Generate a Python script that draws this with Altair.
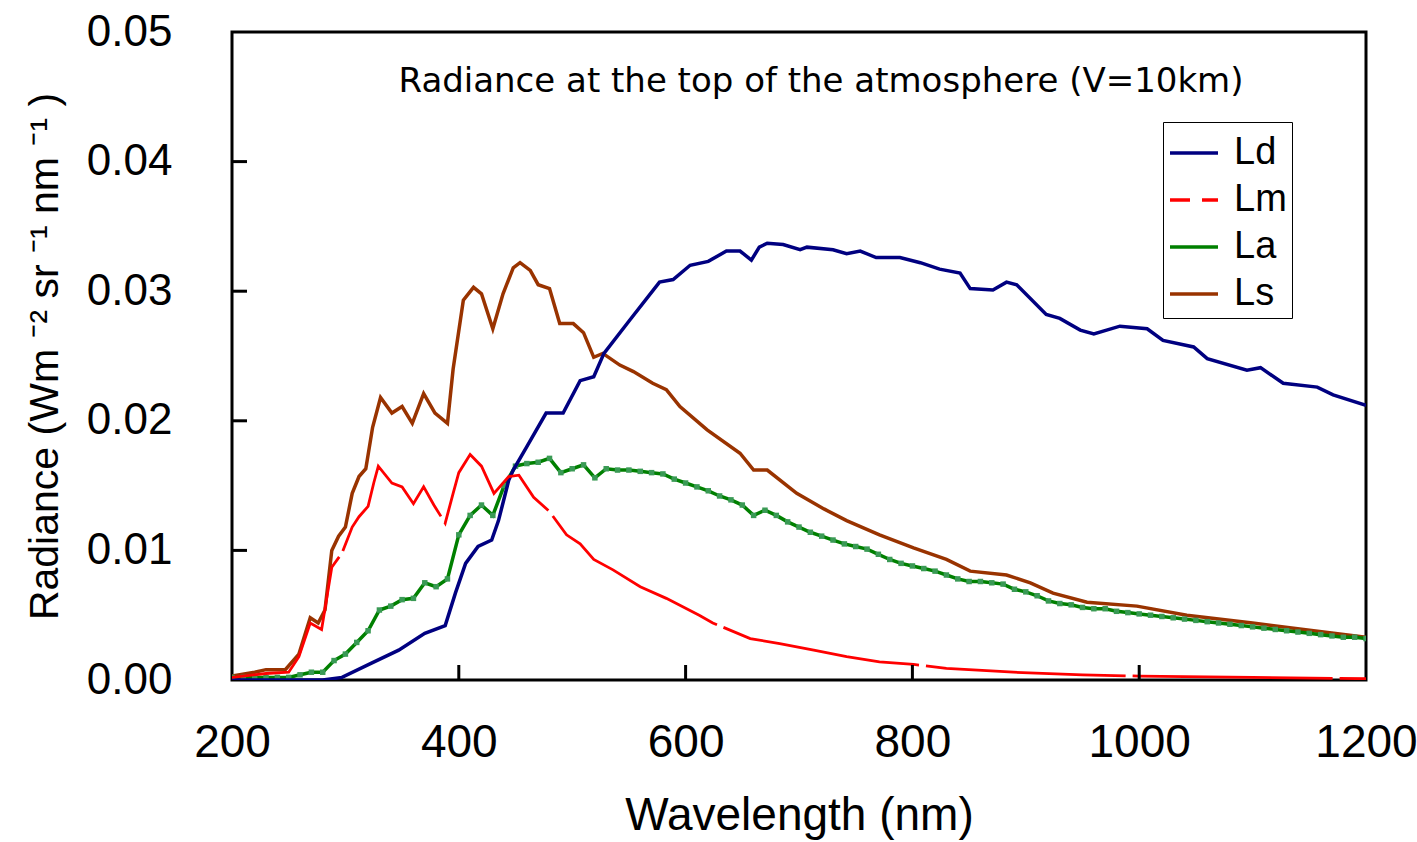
import altair as alt
import pandas as pd

series_names = ["Ld", "Lm", "La", "Ls"]
series_colors = ["#000080", "#FF0000", "#008000", "#993300"]

ld_wl = [200, 280, 297, 323, 347, 370, 388, 397, 406, 417, 429, 435, 444, 448, 460, 477, 492,
         507, 519, 528, 551, 577, 589, 604, 620, 636, 648, 658, 665, 672, 686, 701, 707, 730,
         742, 754, 768, 789, 807, 824, 842, 851, 871, 883, 892, 918, 930, 948, 960, 983, 1007,
         1021, 1048, 1060, 1095, 1107, 1127, 1157, 1171, 1200]
ld_val = [0.0, 0.0, 0.0002, 0.0013, 0.0023, 0.0036, 0.0042, 0.0067, 0.0090, 0.0103, 0.0108,
          0.0123, 0.0154, 0.0162, 0.0180, 0.0206, 0.0206, 0.0231, 0.0234, 0.0252, 0.0278,
          0.0307, 0.0309, 0.0320, 0.0323, 0.0331, 0.0331, 0.0324, 0.0334, 0.0337, 0.0336,
          0.0332, 0.0334, 0.0332, 0.0329, 0.0331, 0.0326, 0.0326, 0.0322, 0.0317, 0.0314,
          0.0302, 0.0301, 0.0307, 0.0305, 0.0282, 0.0279, 0.0270, 0.0267, 0.0273, 0.0271,
          0.0262, 0.0257, 0.0248, 0.0239, 0.0241, 0.0229, 0.0226, 0.0220, 0.0212]

lm_wl = [200, 230, 250, 259, 269, 279, 288, 297, 306, 312, 320, 325, 329, 341, 350, 360, 369,
         378, 388, 395, 400, 410, 420, 431, 444, 453, 466, 480, 495, 507, 519, 536, 560, 583,
         612, 624, 657, 683, 713, 742, 771, 801, 830, 889, 950, 1000, 1100, 1200]
lm_val = [0.0002, 0.0005, 0.0006, 0.0018, 0.0044, 0.0039, 0.0087, 0.0098, 0.0118, 0.0126,
          0.0134, 0.0152, 0.0165, 0.0152, 0.0149, 0.0136, 0.0149, 0.0135, 0.0121, 0.0144,
          0.0160, 0.0174, 0.0165, 0.0144, 0.0157, 0.0158, 0.0141, 0.0130, 0.0112, 0.0105,
          0.0093, 0.0085, 0.0072, 0.0063, 0.0050, 0.0044, 0.0032, 0.0028, 0.0023, 0.0018,
          0.0014, 0.0012, 0.0009, 0.0006, 0.0004, 0.0003, 0.0002, 0.0001]

la_wl = list(range(200, 1201, 10))
la_val = [0.0002, 0.0002, 0.0002, 0.0002, 0.0002, 0.0002, 0.0004, 0.0006, 0.0006, 0.0015,
          0.0020, 0.0029, 0.0038, 0.0054, 0.0057, 0.0062, 0.0063, 0.0075, 0.0072, 0.0078,
          0.0112, 0.0127, 0.0135, 0.0127, 0.0150, 0.0165, 0.0167, 0.0168, 0.0171, 0.0160,
          0.0163, 0.0166, 0.0156, 0.0163, 0.0162, 0.0162, 0.0161, 0.0160, 0.0159, 0.0155,
          0.0152, 0.0149, 0.0146, 0.0142, 0.0139, 0.0135, 0.0127, 0.0131, 0.0127, 0.0122,
          0.0118, 0.0114, 0.0111, 0.0108, 0.0105, 0.0103, 0.0101, 0.0097, 0.0093, 0.0090,
          0.0088, 0.0086, 0.0084, 0.0081, 0.0078, 0.0076, 0.0076, 0.0075, 0.0074, 0.0070,
          0.0068, 0.0065, 0.0061, 0.0059, 0.0058, 0.0056, 0.0055, 0.0055, 0.0053, 0.0052,
          0.0051, 0.0050, 0.0049, 0.0048, 0.0047, 0.0046, 0.0045, 0.0044, 0.0043, 0.0042,
          0.0041, 0.0040, 0.0039, 0.0038, 0.0037, 0.0036, 0.0035, 0.0034, 0.0033, 0.0033,
          0.0032]

ls_wl = [200, 220, 230, 247, 259, 269, 276, 282, 288, 294, 300, 306, 312, 318, 324, 331, 341,
         350, 359, 369, 379, 390, 395, 404, 413, 420, 430, 439, 448, 454, 463, 470, 480, 489,
         501, 510, 519, 527, 542, 554, 571, 583, 595, 619, 648, 660, 672, 698, 722, 742, 771,
         801, 830, 851, 883, 904, 924, 954, 998, 1042, 1100, 1145, 1200]
ls_val = [0.0003, 0.0006, 0.0008, 0.0008, 0.0020, 0.0048, 0.0044, 0.0054, 0.0100, 0.0111,
          0.0118, 0.0144, 0.0157, 0.0163, 0.0195, 0.0218, 0.0206, 0.0211, 0.0198, 0.0221,
          0.0206, 0.0198, 0.0240, 0.0293, 0.0303, 0.0298, 0.0271, 0.0298, 0.0318, 0.0322,
          0.0316, 0.0305, 0.0302, 0.0275, 0.0275, 0.0268, 0.0249, 0.0252, 0.0243, 0.0238,
          0.0229, 0.0224, 0.0211, 0.0193, 0.0175, 0.0162, 0.0162, 0.0144, 0.0132, 0.0123,
          0.0112, 0.0102, 0.0093, 0.0084, 0.0081, 0.0075, 0.0067, 0.0060, 0.0057, 0.0050,
          0.0044, 0.0039, 0.0033]

x_label_values = [200, 400, 600, 800, 1000, 1200]
y_label_values = [0.0, 0.01, 0.02, 0.03, 0.04, 0.05]
x_ticks = [400, 600, 800, 1000]
y_ticks = [0.01, 0.02, 0.03, 0.04]

title_text = "Radiance at the top of the atmosphere (V=10km)"
x_title = "Wavelength (nm)"
y_title = "Radiance (Wm \u207b\u00b2 sr \u207b\u00b9 nm \u207b\u00b9 )"


def frame(wl, vals, name):
    return pd.DataFrame({"wl": wl, "rad": vals, "series": name})


df_ld = frame(ld_wl, ld_val, "Ld")
df_lm = frame(lm_wl, lm_val, "Lm")
df_la = frame(la_wl, la_val, "La")
df_ls = frame(ls_wl, ls_val, "Ls")
df_all = pd.concat([df_ld, df_lm, df_la, df_ls], ignore_index=True)

W, H = 1134, 648

xscale = alt.Scale(domain=[200, 1200], nice=False, zero=False)
yscale = alt.Scale(domain=[0, 0.05], nice=False, zero=False)

xaxis = alt.Axis(values=x_label_values, title=x_title, format="d", ticks=False, domain=False,
                 grid=False, labelFont="Liberation Sans", labelFontSize=46, labelColor="black",
                 labelPadding=40, labelFlush=False, titleFont="Liberation Sans", titleFontSize=46,
                 titleFontWeight="normal", titleColor="black", titlePadding=28)
yaxis = alt.Axis(values=y_label_values, title=y_title, format=".2f", ticks=False, domain=False,
                 grid=False, labelFont="Liberation Sans", labelFontSize=44, labelColor="black",
                 labelPadding=60, labelFlush=False, titleFont="Liberation Sans", titleFontSize=41,
                 titleFontWeight="normal", titleColor="black", titlePadding=20)

X = alt.X("wl:Q", scale=xscale, axis=xaxis)
Y = alt.Y("rad:Q", scale=yscale, axis=yaxis)

ls_line = alt.Chart(df_ls).mark_line(color="#993300", strokeWidth=3.5, clip=True).encode(x=X, y=Y)
la_line = alt.Chart(df_la).mark_line(
    color="#008000", strokeWidth=3.5, clip=True,
    point=alt.OverlayMarkDef(shape="square", size=30, filled=True, color="#3a9a55")
).encode(x=X, y=Y)
ld_line = alt.Chart(df_ld).mark_line(color="#000080", strokeWidth=3.5, clip=True).encode(x=X, y=Y)
lm_line = alt.Chart(df_lm).mark_line(color="#FF0000", strokeWidth=2.8, strokeDash=[200, 7],
                                     clip=True).encode(x=X, y=Y)

legend = alt.Legend(title=None, orient="none", legendX=931, legendY=90, symbolType="stroke",
                    symbolSize=2304, symbolStrokeWidth=3.5, labelFont="Liberation Sans",
                    labelFontSize=38, labelColor="black", strokeColor="black", fillColor="white",
                    padding=5, rowPadding=2, labelOffset=14, cornerRadius=0)
legend_layer = alt.Chart(df_all).transform_filter("false").mark_line(strokeWidth=3.5).encode(
    x=X, y=Y,
    color=alt.Color("series:N", scale=alt.Scale(domain=series_names, range=series_colors),
                    legend=legend, sort=series_names),
    strokeDash=alt.StrokeDash("series:N",
                              scale=alt.Scale(domain=series_names,
                                              range=[[1, 0], [20, 12], [1, 0], [1, 0]]),
                              legend=legend, sort=series_names),
)

ytick_layer = alt.Chart(pd.DataFrame({"v": y_ticks})).mark_rule(color="black", strokeWidth=3).encode(
    y=alt.Y("v:Q", scale=yscale, axis=yaxis), x=alt.value(0), x2=alt.value(15))
xtick_layer = alt.Chart(pd.DataFrame({"v": x_ticks})).mark_rule(color="black", strokeWidth=3).encode(
    x=alt.X("v:Q", scale=xscale, axis=xaxis), y=alt.value(H), y2=alt.value(H - 15))

title_layer = alt.Chart(pd.DataFrame({"t": [title_text]})).mark_text(
    font="DejaVu Sans", fontSize=34, color="black", align="center", baseline="middle"
).encode(text="t:N", x=alt.value(589), y=alt.value(50))

chart = alt.layer(
    ls_line, la_line, ld_line, lm_line, legend_layer, ytick_layer, xtick_layer, title_layer
).properties(
    width=W, height=H,
    autosize=alt.AutoSizeParams(type="none"),
    padding={"left": 232, "top": 32, "right": 51, "bottom": 162},
    background="white",
).configure_view(stroke="black", strokeWidth=3)

chart.save("out.html", embed_options={"renderer": "svg", "actions": False})
